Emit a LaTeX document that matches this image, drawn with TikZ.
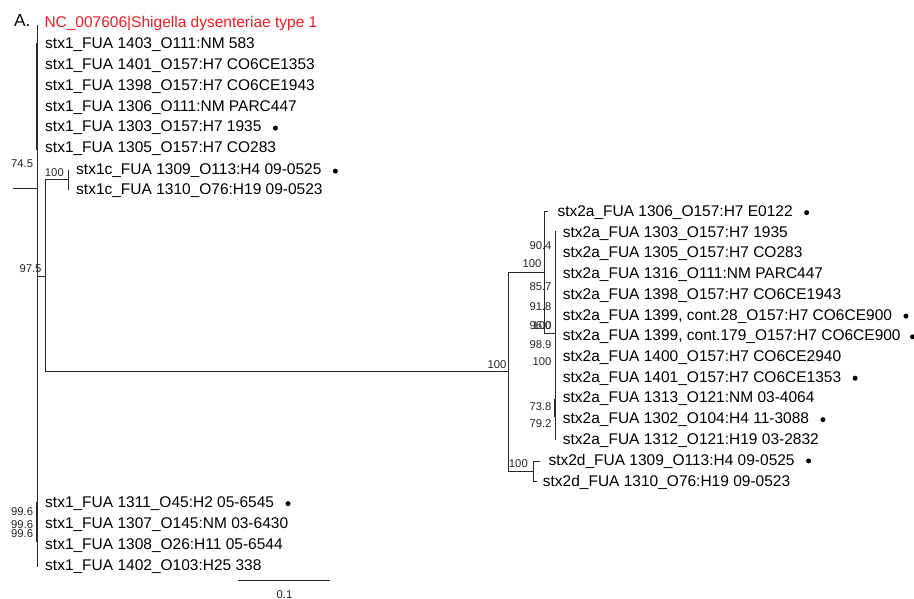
\documentclass[tikz,border=0pt]{standalone}
\usepackage{fontspec}
\setmainfont{Liberation Sans}
\usetikzlibrary{positioning}
\definecolor{outRed}{RGB}{237,28,36}
\definecolor{treeLine}{RGB}{40,40,40}
\tikzset{
    % tree lines
    branch/.style={draw=treeLine, line width=1pt},
    collapsed/.style={draw=treeLine, line width=2.4pt},
    % labels
    leaf/.style={anchor=base west, inner sep=0pt, font=\fontsize{15.5}{18}\selectfont},
    boot/.style={anchor=east, inner sep=0pt, font=\fontsize{11.3}{13}\selectfont, text=black!85},
    leafdot/.style={circle, fill=black, inner sep=0pt, minimum size=5pt}
}

\begin{document}
\begin{tikzpicture}[x=1pt, y=-1pt]
    \useasboundingbox (0,0) rectangle (914,599);

    \node[anchor=base west, inner sep=0pt, font=\fontsize{17.3}{20}\selectfont] (panel) at (14,26.7) {A.};

    % Leaves, stx1 group (top)
    \node[leaf, text=outRed] (nc) at (44.3,28) {NC\_007606|Shigella dysenteriae type 1};
    \node[leaf] (s1403) at (45,49) {stx1\_FUA 1403\_O111:NM 583};
    \node[leaf] (s1401) at (45,70) {stx1\_FUA 1401\_O157:H7 CO6CE1353};
    \node[leaf] (s1398) at (45,91) {stx1\_FUA 1398\_O157:H7 CO6CE1943};
    \node[leaf] (s1306) at (45,111.5) {stx1\_FUA 1306\_O111:NM PARC447};
    \node[leaf] (s1303) at (45,132) {stx1\_FUA 1303\_O157:H7 1935};
    \node[leaf] (s1305) at (45,153) {stx1\_FUA 1305\_O157:H7 CO283};
    \node[leaf] (c1309) at (76,175) {stx1c\_FUA 1309\_O113:H4 09-0525};
    \node[leaf] (c1310) at (76,195) {stx1c\_FUA 1310\_O76:H19 09-0523};

    % Leaves, stx1 group (bottom)
    \node[leaf] (s1311) at (45,507.5) {stx1\_FUA 1311\_O45:H2 05-6545};
    \node[leaf] (s1307) at (45,528.5) {stx1\_FUA 1307\_O145:NM 03-6430};
    \node[leaf] (s1308) at (45,549.5) {stx1\_FUA 1308\_O26:H11 05-6544};
    \node[leaf] (s1402) at (45,570.5) {stx1\_FUA 1402\_O103:H25 338};

    % Leaves, stx2a / stx2d
    \node[leaf] (a1306) at (557.3,216.5) {stx2a\_FUA 1306\_O157:H7 E0122};
    \node[leaf] (a1303) at (562.7,237.2) {stx2a\_FUA 1303\_O157:H7 1935};
    \node[leaf] (a1305) at (562.7,257.9) {stx2a\_FUA 1305\_O157:H7 CO283};
    \node[leaf] (a1316) at (562.7,278.6) {stx2a\_FUA 1316\_O111:NM PARC447};
    \node[leaf] (a1398) at (562.7,299.3) {stx2a\_FUA 1398\_O157:H7 CO6CE1943};
    \node[leaf] (a1399a) at (562.7,320) {stx2a\_FUA 1399, cont.28\_O157:H7 CO6CE900};
    \node[leaf] (a1399b) at (562.7,340.7) {stx2a\_FUA 1399, cont.179\_O157:H7 CO6CE900};
    \node[leaf] (a1400) at (562.7,361.4) {stx2a\_FUA 1400\_O157:H7 CO6CE2940};
    \node[leaf] (a1401) at (562.7,382.1) {stx2a\_FUA 1401\_O157:H7 CO6CE1353};
    \node[leaf] (a1313) at (562.7,402.8) {stx2a\_FUA 1313\_O121:NM 03-4064};
    \node[leaf] (a1302) at (562.7,423.5) {stx2a\_FUA 1302\_O104:H4 11-3088};
    \node[leaf] (a1312) at (562.7,444.2) {stx2a\_FUA 1312\_O121:H19 03-2832};
    \node[leaf] (d1309) at (548.3,465) {stx2d\_FUA 1309\_O113:H4 09-0525};
    \node[leaf] (d1310) at (542.7,486) {stx2d\_FUA 1310\_O76:H19 09-0523};

    % Marked strains
    \node[leafdot, right=11pt of s1303] (m1) {};
    \node[leafdot, right=11pt of c1309] (m2) {};
    \node[leafdot, right=11pt of s1311] (m3) {};
    \node[leafdot, right=11pt of a1306] (m4) {};
    \node[leafdot, right=11pt of a1399a] (m5) {};
    \node[leafdot, right=9pt of a1399b] (m6) {};
    \node[leafdot, right=11pt of a1401] (m7) {};
    \node[leafdot, right=11pt of a1302] (m8) {};
    \node[leafdot, right=11pt of d1309] (m9) {};

    % Tree points
    \coordinate (rtop) at (37,25);
    \coordinate (rbot) at (37,566.7);
    \coordinate (stub) at (13,189);
    \coordinate (rjoin) at (37,189);
    \coordinate (k1top) at (37,43);
    \coordinate (k1bot) at (37,150);
    \coordinate (k2top) at (37,501.7);
    \coordinate (k2bot) at (37,541.7);
    \coordinate (j975) at (37,276);
    \coordinate (n975) at (45,276);
    \coordinate (n1c) at (68,180);
    \coordinate (t1c9) at (68,170);
    \coordinate (t1c10) at (68,190);
    \coordinate (n2) at (508,371.5);
    \coordinate (n2a) at (544,272.5);
    \coordinate (t2a06) at (548,211.7);
    \coordinate (n2ap) at (555,333);
    \coordinate (p2top) at (555,231);
    \coordinate (p2bot) at (555,440);
    \coordinate (k3top) at (555,399);
    \coordinate (k3bot) at (555,417);
    \coordinate (n2d) at (533,471.5);
    \coordinate (t2d09) at (540,461.7);
    \coordinate (t2d10) at (537,481.7);

    % Branches
    \draw[branch] (rtop) -- (rbot);
    \draw[branch] (stub) -- (rjoin);
    \draw[collapsed] (k1top) -- (k1bot);
    \draw[collapsed] (k2top) -- (k2bot);
    \draw[branch] (j975) -- (n975);
    \draw[branch] (n975) |- (n1c);
    \draw[branch] (n975) |- (n2);
    \draw[branch] (n1c) -- (t1c9);
    \draw[branch] (n1c) -- (t1c10);
    \draw[branch] (n2) |- (n2a);
    \draw[branch] (n2) |- (n2d);
    \draw[branch] (n2a) |- (t2a06);
    \draw[branch] (n2a) |- (n2ap);
    \draw[branch] (p2top) -- (p2bot);
    \draw[collapsed, line width=1.8pt] (k3top) -- (k3bot);
    \draw[branch] (n2d) |- (t2d09);
    \draw[branch] (n2d) |- (t2d10);

    % Bootstrap values
    \node[boot] (b745) at (33.3,163.3) {74.5};
    \node[boot] (b1c) at (64,172.7) {100};
    \node[boot] (b975) at (41.7,268.7) {97.5};
    \node[boot] (b996a) at (33.3,511.7) {99.6};
    \node[boot] (b996b) at (33.3,524.5) {99.6};
    \node[boot] (b996c) at (33.3,533.3) {99.6};
    \node[boot] (b2) at (506.7,365) {100};
    \node[boot] (b904) at (551.7,246) {90.4};
    \node[boot] (b2a) at (541.7,264) {100};
    \node[boot] (b857) at (551.7,287) {85.7};
    \node[boot] (b918) at (551.7,306.7) {91.8};
    \node[boot] (b960) at (551.7,326) {96.0};
    \node[boot] (b100x) at (551.7,326) {100};
    \node[boot] (b989) at (551.7,345) {98.9};
    \node[boot] (b100y) at (551.7,362) {100};
    \node[boot] (b738) at (551.7,406.5) {73.8};
    \node[boot] (b792) at (551.7,424) {79.2};
    \node[boot] (b2d) at (528,464) {100};

    % Scale bar
    \coordinate (sb0) at (238,580.5);
    \coordinate (sb1) at (330,580.5);
    \draw[branch] (sb0) -- (sb1);
    \node[boot, anchor=center] (sblab) at (284.5,594.5) {0.1};
\end{tikzpicture}
\end{document}
